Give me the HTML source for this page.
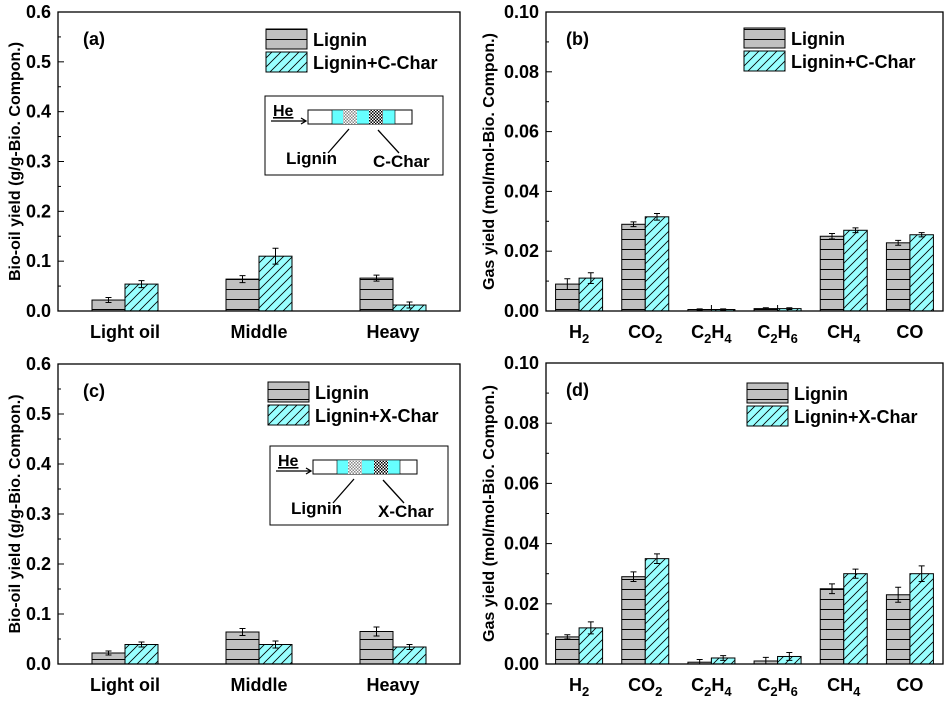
<!DOCTYPE html>
<html><head><meta charset="utf-8"><style>
body{margin:0;background:#fff}
svg{display:block;font-family:"Liberation Sans",Arial,sans-serif;font-weight:bold}
</style></head><body>
<svg id="c" width="947" height="702" viewBox="0 0 947 702">
<defs>
<pattern id="hz" width="10" height="10" patternUnits="userSpaceOnUse"><rect width="10" height="10" fill="#c0c0c0"/><line x1="0" y1="9.5" x2="10" y2="9.5" stroke="#000" stroke-width="1"/></pattern>
<pattern id="dg" width="9" height="9" patternUnits="userSpaceOnUse"><rect width="9" height="9" fill="#99ffff"/><path d="M-1,10 L10,-1 M-2,2 L2,-2 M7,11 L11,7" stroke="#000" stroke-width="0.8"/></pattern>
<pattern id="ck" width="3" height="3" patternUnits="userSpaceOnUse"><rect width="3" height="3" fill="#fff"/><rect width="1.5" height="1.5" fill="#888"/><rect x="1.5" y="1.5" width="1.5" height="1.5" fill="#888"/></pattern>
<pattern id="ck2" width="3" height="3" patternUnits="userSpaceOnUse"><rect width="3" height="3" fill="#fff"/><rect width="1.5" height="1.5" fill="#000"/><rect x="1.5" y="1.5" width="1.5" height="1.5" fill="#000"/></pattern>
</defs>
</svg>
<script>
const oilCats=["Light oil","Middle","Heavy"];
const gasCats=["H2","CO2","C2H4","C2H6","CH4","CO"];
const aLig=[0.022,0.064,0.066], aChar=[0.054,0.110,0.012];
const aLigErr=[0.005,0.007,0.006], aCharErr=[0.007,0.016,0.006];
const cLig=[0.022,0.064,0.065], cChar=[0.039,0.039,0.034];
const cLigErr=[0.004,0.007,0.009], cCharErr=[0.005,0.007,0.005];
const bLig=[0.009,0.029,0.0005,0.0008,0.025,0.0228], bChar=[0.011,0.0315,0.0005,0.0008,0.027,0.0255];
const bLigErr=[0.0018,0.0008,0.0002,0.0003,0.0009,0.0008], bCharErr=[0.0018,0.0011,0.0002,0.0003,0.0008,0.0007];
const dLig=[0.009,0.029,0.0006,0.001,0.025,0.023], dChar=[0.012,0.035,0.002,0.0025,0.030,0.030];
const dLigErr=[0.0007,0.0016,0.0009,0.0012,0.0016,0.0025], dCharErr=[0.002,0.0016,0.0008,0.0013,0.0015,0.0026];
const oilTicks=["0.0","0.1","0.2","0.3","0.4","0.5","0.6"];
const gasTicks=["0.00","0.02","0.04","0.06","0.08","0.10"];
const NS="http://www.w3.org/2000/svg";
const svg=document.getElementById('c');
function el(t,a,p){const e=document.createElementNS(NS,t);for(const k in a)e.setAttribute(k,a[k]);(p||svg).appendChild(e);return e;}
function panel(o){
  const g=el('g',{});
  
  
  const L=o.L,R=o.R,T=o.T,B=o.B;
  const y=v=>B-(v/o.max)*(B-T);
  const n=o.cats.length, sp=(R-L)/n;
  const cx=i=>L+sp*(i+0.5);
  const nt=o.ticks.length;
  for(let i=0;i<nt;i++){
    const v=o.max*i/(nt-1), yy=y(v);
    el('line',{x1:L,x2:L+6,y1:yy,y2:yy,stroke:'#000','stroke-width':1},g);
    const t=el('text',{x:L-7,y:yy+6,'text-anchor':'end','font-size':18},g);t.textContent=o.ticks[i];
    
    if(i<nt-1){const ym=y(v+o.max/(nt-1)/2);el('line',{x1:L,x2:L+3,y1:ym,y2:ym,stroke:'#000'},g);}
  }
  const bw=o.bw;
  for(let i=0;i<n;i++){
    const x0=cx(i);
    el('line',{x1:x0,x2:x0,y1:B,y2:B-6,stroke:'#000'},g);
    [[o.s1,o.e1,'url(#hz)',x0-bw],[o.s2,o.e2,'url(#dg)',x0]].forEach(([s,e,f,xx],k)=>{
      const r=el('rect',{x:xx,y:y(s[i]),width:bw,height:B-y(s[i]),fill:f,stroke:'#000','stroke-width':1},g);
      
      const ex=xx+bw/2;
      el('path',{d:`M${ex},${y(s[i]+e[i])}V${y(Math.max(0,s[i]-e[i]))}M${ex-3},${y(s[i]+e[i])}h6M${ex-3},${y(Math.max(0,s[i]-e[i]))}h6`,stroke:'#000','stroke-width':1,fill:'none'},g);
    });
    const lab=o.cats[i];
    const t=el('text',{x:x0,y:B+27,'text-anchor':'middle','font-size':18},g);
    
    if(o.gas){
      const parts=lab.match(/[A-Za-z]+|\d/g);
      parts.forEach(p=>{const ts=el('tspan',{},t);ts.textContent=p;if(/\d/.test(p)){ts.setAttribute('font-size',13);ts.setAttribute('dy',5);}else if(t.childNodes.length>1){ts.setAttribute('dy',-5);}});
    } else t.textContent=lab;
  }
  el('rect',{x:L,y:T,width:R-L,height:B-T,fill:'none',stroke:'#000','stroke-width':1.3},g);
  const yt=el('text',{x:0,y:0,transform:`translate(${o.yx},${(T+B)/2}) rotate(-90)`,'text-anchor':'middle','font-size':16},g);
  yt.textContent=o.ytitle;
  const pl=el('text',{x:o.lx,y:T+33,'font-size':18},g);pl.textContent=o.label;
  
  const lg=el('g',{},g);
  el('rect',{x:o.gx,y:o.gy,width:41,height:20,fill:'url(#hz)',stroke:'#000'},lg);
  el('rect',{x:o.gx,y:o.gy+23,width:41,height:20,fill:'url(#dg)',stroke:'#000'},lg);
  let t1=el('text',{x:o.gx+47,y:o.gy+17,'font-size':18},lg);t1.textContent='Lignin';
  let t2=el('text',{x:o.gx+47,y:o.gy+40,'font-size':18},lg);t2.textContent=o.leg2;
  if(o.inset){
    const [ix,iy,cn]=o.inset;
    const ig=el('g',{},g);
    el('rect',{x:ix,y:iy,width:178,height:79,fill:'#fff',stroke:'#000'},ig);
    el('rect',{x:ix+43,y:iy+14,width:104,height:14,fill:'#fff',stroke:'#000'},ig);
    el('rect',{x:ix+67,y:iy+14,width:63,height:14,fill:'#66ffff',stroke:'#000','stroke-width':0.6},ig);
    el('rect',{x:ix+78,y:iy+14,width:14,height:14,fill:'url(#ck)'},ig);
    el('rect',{x:ix+104,y:iy+14,width:14,height:14,fill:'url(#ck2)'},ig);
    let h=el('text',{x:ix+8,y:iy+20,'font-size':16,'text-decoration':'underline'},ig);h.textContent='He';
    el('path',{d:`M${ix+6},${iy+25}H${ix+40}M${ix+36},${iy+22}L${ix+41},${iy+25}L${ix+36},${iy+28}`,stroke:'#000',fill:'none','stroke-width':1.3},ig);
    el('path',{d:`M${ix+63},${iy+57}L${ix+84},${iy+33}M${ix+134},${iy+57}L${ix+113},${iy+34}`,stroke:'#000','stroke-width':1.3},ig);
    let a=el('text',{x:ix+21,y:iy+68,'font-size':17},ig);a.textContent='Lignin';
    let b=el('text',{x:ix+108,y:iy+71,'font-size':17},ig);b.textContent=cn;
  }
}
panel({name:'panel-a',L:58,R:460,T:12,B:311,max:0.6,ticks:oilTicks,cats:oilCats,s1:aLig,s2:aChar,e1:aLigErr,e2:aCharErr,bw:33,ytitle:'Bio-oil yield (g/g-Bio. Compon.)',yx:20,label:'(a)',lx:83,gx:266,gy:29,leg2:'Lignin+C-Char',inset:[265,96,'C-Char']});
panel({name:'panel-b',L:546,R:943,T:12,B:311,max:0.1,ticks:gasTicks,cats:gasCats,gas:1,s1:bLig,s2:bChar,e1:bLigErr,e2:bCharErr,bw:23.5,ytitle:'Gas yield (mol/mol-Bio. Compon.)',yx:494,label:'(b)',lx:566,gx:744,gy:28,leg2:'Lignin+C-Char'});
panel({name:'panel-c',L:58,R:460,T:364,B:664,max:0.6,ticks:oilTicks,cats:oilCats,s1:cLig,s2:cChar,e1:cLigErr,e2:cCharErr,bw:33,ytitle:'Bio-oil yield (g/g-Bio. Compon.)',yx:20,label:'(c)',lx:83,gx:268,gy:382,leg2:'Lignin+X-Char',inset:[270,446,'X-Char']});
panel({name:'panel-d',L:546,R:943,T:363,B:664,max:0.1,ticks:gasTicks,cats:gasCats,gas:1,s1:dLig,s2:dChar,e1:dLigErr,e2:dCharErr,bw:23.5,ytitle:'Gas yield (mol/mol-Bio. Compon.)',yx:494,label:'(d)',lx:566,gx:747,gy:383,leg2:'Lignin+X-Char'});
</script>
</body></html>
